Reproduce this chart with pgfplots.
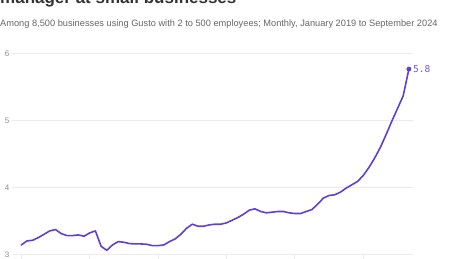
\documentclass[border=0pt]{standalone}
\usepackage{fontspec}
\setmainfont{Liberation Sans}
\setmonofont{DejaVu Sans Mono}
\usepackage{pgfplots}
\pgfplotsset{compat=1.18}
\usepackage{pgfplotstable}
\definecolor{linepurple}{HTML}{5F40D4}
\definecolor{labpurple}{HTML}{7058DC}
\definecolor{gridgray}{HTML}{EBEBEB}
\definecolor{ticktext}{HTML}{8A8A8A}
\definecolor{subgray}{HTML}{666666}
\definecolor{titlegray}{HTML}{333333}

\pgfplotstableread{
m v
0 3.14
1 3.20
2 3.21
3 3.25
4 3.30
5 3.35
6 3.37
7 3.31
8 3.28
9 3.28
10 3.29
11 3.27
12 3.32
13 3.35
14 3.12
15 3.06
16 3.14
17 3.19
18 3.18
19 3.16
20 3.155
21 3.155
22 3.15
23 3.13
24 3.13
25 3.14
26 3.19
27 3.23
28 3.30
29 3.39
30 3.45
31 3.42
32 3.42
33 3.44
34 3.45
35 3.45
36 3.47
37 3.51
38 3.55
39 3.60
40 3.66
41 3.68
42 3.64
43 3.62
44 3.63
45 3.64
46 3.64
47 3.62
48 3.61
49 3.61
50 3.64
51 3.67
52 3.75
53 3.84
54 3.88
55 3.89
56 3.93
57 3.99
58 4.04
59 4.09
60 4.18
61 4.30
62 4.44
63 4.60
64 4.79
65 4.99
66 5.18
67 5.37
68 5.77
}\datatable

\pgfplotstableread{
m v
68 5.77
}\lastpoint

\begin{document}
\begin{tikzpicture}[x=1pt,y=1pt]
\node[anchor=base west, inner sep=0pt, text=titlegray, font=\fontsize{17}{20}\selectfont\bfseries] at (0,255) {manager at small businesses};
\node[anchor=base west, inner sep=0pt, text=subgray, font=\fontsize{9.25}{10}\selectfont] at (0,232.3) {Among 8,500 businesses using Gusto with 2 to 500 employees; Monthly, January 2019 to September 2024};
\begin{axis}[
  at={(12pt,4.7pt)}, anchor=south west,
  scale only axis, width=401pt, height=200.6pt,
  xmin=-1.63, xmax=68.72, ymin=3, ymax=6,
  axis line style={draw=none},
  ymajorgrids, grid style={gridgray, line width=0.8pt},
  ytick={3,4,5,6},
  xtick={0,12,24,36,48,60},
  xticklabels={},
  tick align=outside, major tick length=5pt,
  xtick style={gridgray, line width=0.8pt},
  ytick style={draw=none},
  xtick pos=bottom, ytick pos=left,
  yticklabel style={text=ticktext, font=\fontsize{8}{9}\selectfont, inner sep=0pt, anchor=center, xshift=0pt},
  /pgf/number format/assume math mode=true,
  clip=false,
]
\addplot[linepurple, line width=1.6pt, line join=round, line cap=round] table[x=m,y=v] {\datatable};
\addplot[only marks, mark=*, mark size=2.2pt, linepurple] table[x=m,y=v] {\lastpoint};
\addplot[only marks, mark=none, nodes near coords={5.8}, nodes near coords style={anchor=west, text=labpurple, font=\ttfamily\fontsize{9.5}{10}\selectfont, xshift=4pt, inner sep=0pt}] table[x=m,y=v] {\lastpoint};
\end{axis}
\pgfresetboundingbox
\path[use as bounding box] (0,0) rectangle (460,259);
\end{tikzpicture}
\end{document}
